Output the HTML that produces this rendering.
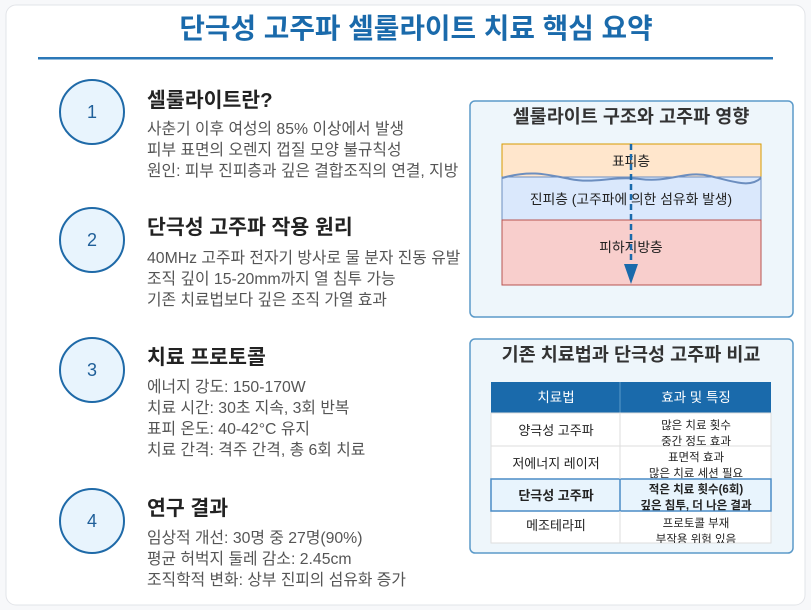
<!DOCTYPE html>
<html><head><meta charset="utf-8"><style>
html,body{margin:0;padding:0;background:#f7f8fa;}
svg{display:block;font-family:"Liberation Sans","Noto Sans CJK KR",sans-serif;}
</style></head><body>
<svg width="811" height="610" viewBox="0 0 811 610" xmlns="http://www.w3.org/2000/svg">
<defs><clipPath id="lc"><rect x="0" y="0" width="466" height="610"/></clipPath>
<clipPath id="r1"><rect x="491" y="413" width="280" height="33"/></clipPath>
<clipPath id="r2"><rect x="491" y="446" width="280" height="33"/></clipPath>
<clipPath id="r3"><rect x="491" y="479" width="280" height="32"/></clipPath>
<clipPath id="r4"><rect x="491" y="511" width="280" height="32"/></clipPath>
</defs>
<rect x="6" y="5" width="799" height="600" rx="10" fill="#fff" stroke="#e2e4e8"/>
<text x="416" y="38" text-anchor="middle" font-size="27.8" font-weight="bold" fill="#1a6aab">단극성 고주파 셀룰라이트 치료 핵심 요약</text>
<rect x="38" y="57" width="735" height="2.5" fill="#2b78b8"/>
<g fill="#e8f4fd" stroke="#1f6aa8" stroke-width="2">
<circle cx="92" cy="112" r="32"/><circle cx="92" cy="240" r="32"/><circle cx="92" cy="370" r="32"/><circle cx="92" cy="521" r="32"/></g>
<g font-size="18" fill="#1f5f99" text-anchor="middle">
<text x="92" y="118">1</text><text x="92" y="246">2</text><text x="92" y="376">3</text><text x="92" y="527">4</text></g>
<g clip-path="url(#lc)">
<g font-size="20.5" font-weight="bold" fill="#222">
<text x="147" y="107">셀룰라이트란?</text>
<text x="147" y="234">단극성 고주파 작용 원리</text>
<text x="147" y="364">치료 프로토콜</text>
<text x="147" y="515">연구 결과</text></g>
<g font-size="15.8" fill="#555">
<text x="147" y="134">사춘기 이후 여성의 85% 이상에서 발생</text>
<text x="147" y="155">피부 표면의 오렌지 껍질 모양 불규칙성</text>
<text x="147" y="176">원인: 피부 진피층과 깊은 결합조직의 연결, 지방</text>
<text x="147" y="263">40MHz 고주파 전자기 방사로 물 분자 진동 유발</text>
<text x="147" y="284">조직 깊이 15-20mm까지 열 침투 가능</text>
<text x="147" y="305">기존 치료법보다 깊은 조직 가열 효과</text>
<text x="147" y="392">에너지 강도: 150-170W</text>
<text x="147" y="413">치료 시간: 30초 지속, 3회 반복</text>
<text x="147" y="434">표피 온도: 40-42°C 유지</text>
<text x="147" y="455">치료 간격: 격주 간격, 총 6회 치료</text>
<text x="147" y="543">임상적 개선: 30명 중 27명(90%)</text>
<text x="147" y="564">평균 허벅지 둘레 감소: 2.45cm</text>
<text x="147" y="585">조직학적 변화: 상부 진피의 섬유화 증가</text></g>
</g>
<!-- panel 1 -->
<rect x="470" y="101" width="323" height="216" rx="5" fill="#eef6fb" stroke="#5b9ac9" stroke-width="1.5"/>
<text x="631" y="123" text-anchor="middle" font-size="18.5" font-weight="bold" fill="#333">셀룰라이트 구조와 고주파 영향</text>
<rect x="502" y="144" width="259" height="33" fill="#ffe6cc" stroke="#d79b00"/>
<rect x="502" y="177" width="259" height="43" fill="#dae8fc" stroke="#6c8ebf"/>
<rect x="502" y="220" width="259" height="65" fill="#f8cecc" stroke="#b85450"/>
<path d="M502 178 C530 170,545 174,570 179 C595 184,610 176,640 179 C670 183,685 170,710 176 C735 182,750 188,761 178" fill="none" stroke="#6c8ebf" stroke-width="2"/>
<g font-size="13.8" fill="#222" text-anchor="middle">
<text x="631" y="166">표피층</text>
<text x="631" y="204">진피층 (고주파에 의한 섬유화 발생)</text>
<text x="631" y="252">피하지방층</text></g>
<line x1="631" y1="144" x2="631" y2="265" stroke="#1a6aab" stroke-width="2.5" stroke-dasharray="6,4"/>
<polygon points="624,264 638,264 631,284" fill="#1a6aab"/>
<!-- panel 2 -->
<rect x="470" y="339" width="323" height="214" rx="5" fill="#eef6fb" stroke="#5b9ac9" stroke-width="1.5"/>
<text x="631" y="361" text-anchor="middle" font-size="18.5" font-weight="bold" fill="#333">기존 치료법과 단극성 고주파 비교</text>
<rect x="491" y="382" width="280" height="31" fill="#1a6aab"/>
<line x1="620" y1="382" x2="620" y2="413" stroke="#5b9ac9"/>
<g font-size="13.5" fill="#fff" text-anchor="middle"><text x="556" y="402">치료법</text><text x="696" y="402">효과 및 특징</text></g>
<rect x="491" y="413" width="280" height="130" fill="#fff" stroke="#ddd"/>
<line x1="491" y1="446" x2="771" y2="446" stroke="#ddd"/>
<line x1="491" y1="511" x2="771" y2="511" stroke="#ddd"/>
<rect x="491" y="479" width="280" height="32" fill="#e8f4fd" stroke="#4a8cc6" stroke-width="1.5"/>
<line x1="620" y1="413" x2="620" y2="543" stroke="#ddd"/>
<line x1="620" y1="479" x2="620" y2="511" stroke="#4a8cc6" stroke-width="1.5"/>
<g font-size="13" fill="#222" text-anchor="middle">
<text x="556" y="435">양극성 고주파</text>
<text x="556" y="468">저에너지 레이저</text>
<text x="556" y="500" font-weight="bold">단극성 고주파</text>
<text x="556" y="530">메조테라피</text>
<g font-size="11.5">
<g clip-path="url(#r1)"><text x="696" y="429">많은 치료 횟수</text><text x="696" y="445">중간 정도 효과</text></g>
<g clip-path="url(#r2)"><text x="696" y="461">표면적 효과</text><text x="696" y="477">많은 치료 세션 필요</text></g>
<g clip-path="url(#r3)" font-weight="bold"><text x="696" y="493">적은 치료 횟수(6회)</text><text x="696" y="509">깊은 침투, 더 나은 결과</text></g>
<g clip-path="url(#r4)"><text x="696" y="527">프로토콜 부재</text><text x="696" y="543">부작용 위험 있음</text></g>
</g></g>
</svg>
</body></html>
